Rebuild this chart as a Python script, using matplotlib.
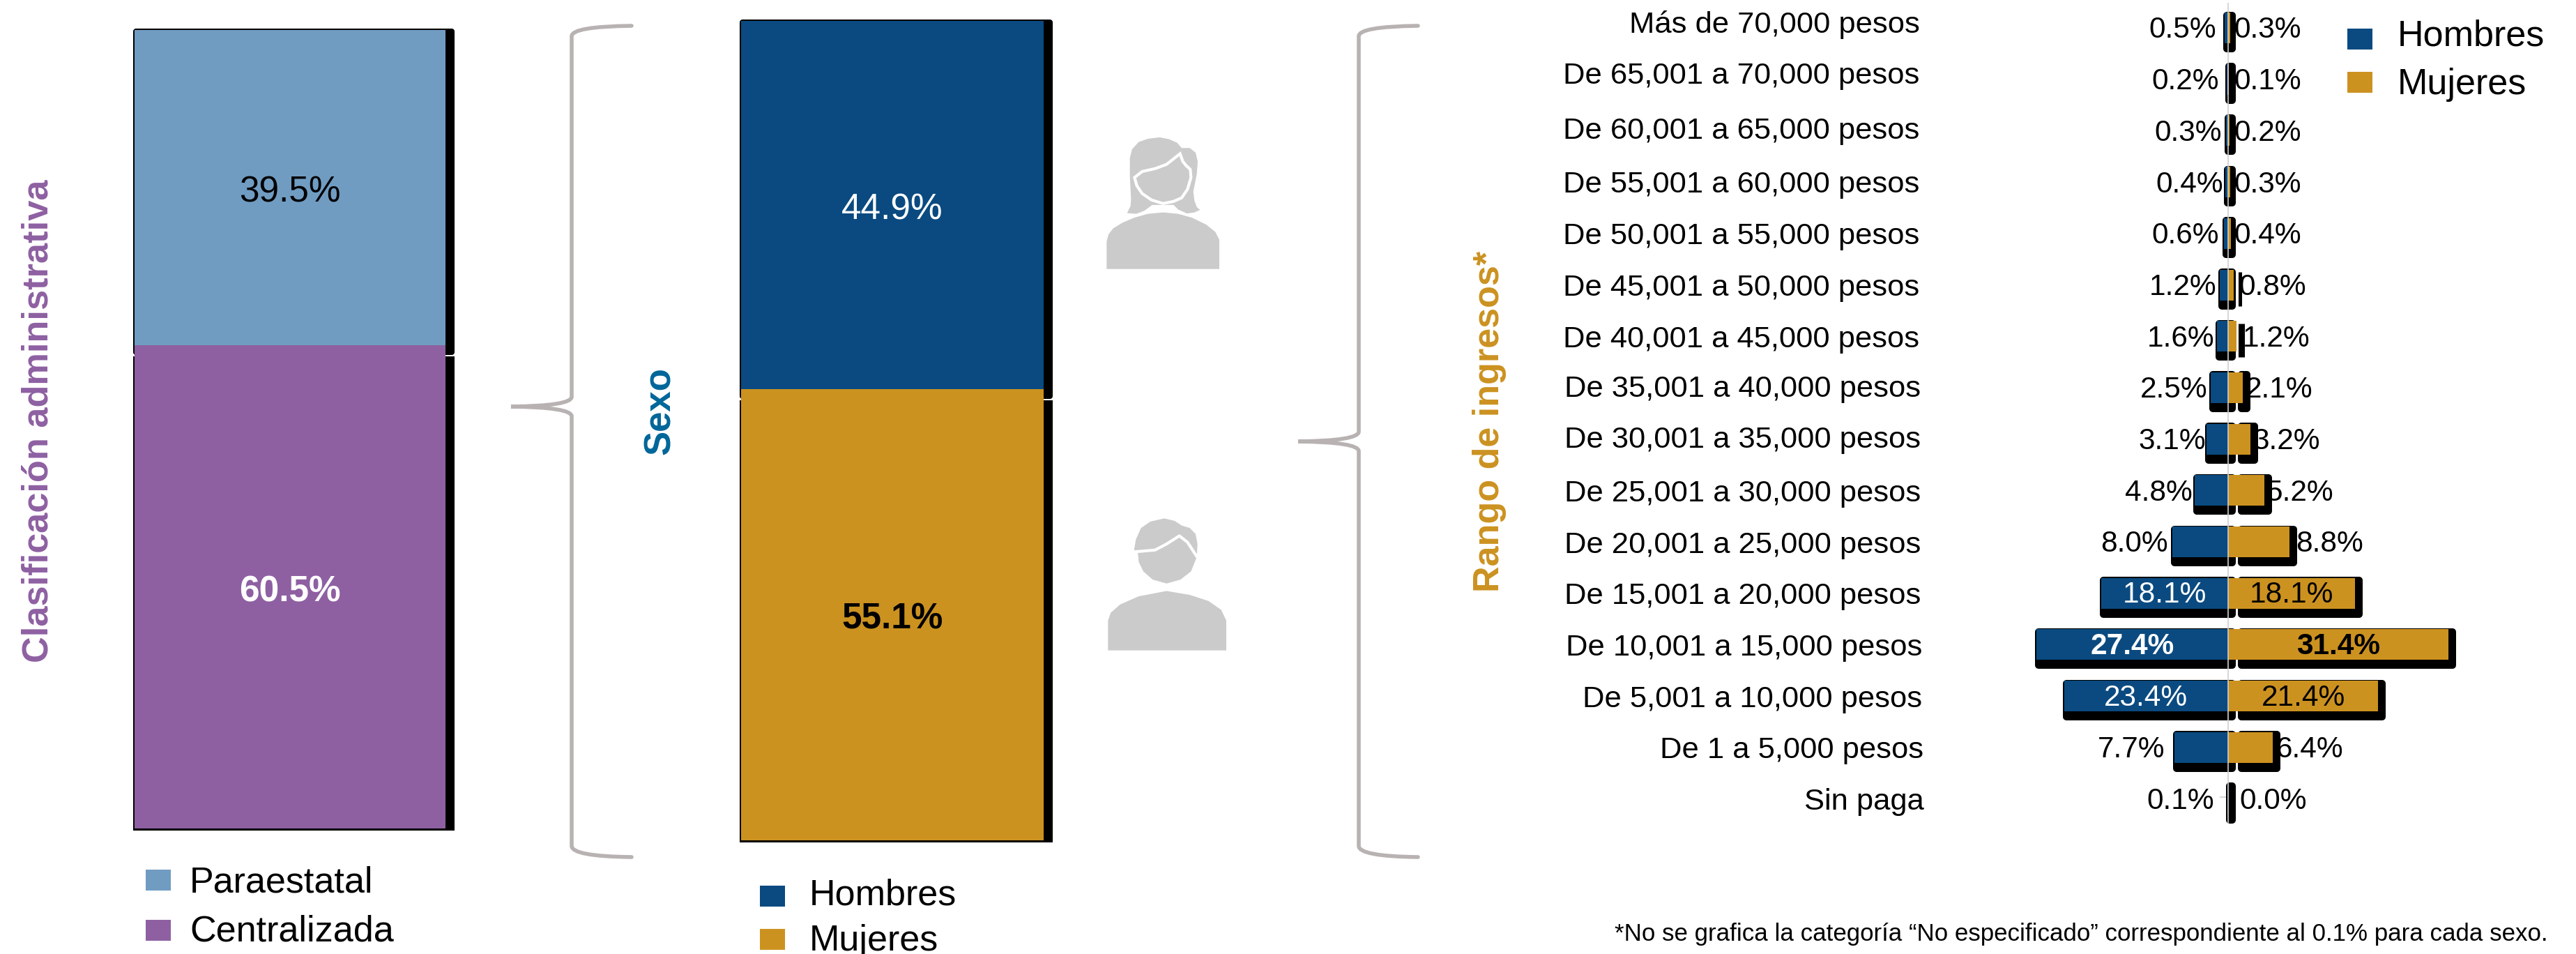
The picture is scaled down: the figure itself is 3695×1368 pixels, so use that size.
import matplotlib
matplotlib.use('Agg')
import matplotlib.pyplot as plt
from matplotlib.path import Path
from matplotlib.patches import PathPatch, Polygon, Rectangle
from matplotlib.transforms import ScaledTranslation

plt.rcParams['font.family'] = ['Liberation Sans', 'DejaVu Sans']

W, H = 3695, 1368

# data
admin_labels = ['Centralizada', 'Paraestatal']
admin_values = [60.5, 39.5]
sexo_labels = ['Mujeres', 'Hombres']
sexo_values = [55.1, 44.9]
rangos = ['Más de 70,000 pesos', 'De 65,001 a 70,000 pesos', 'De 60,001 a 65,000 pesos',
          'De 55,001 a 60,000 pesos', 'De 50,001 a 55,000 pesos', 'De 45,001 a 50,000 pesos',
          'De 40,001 a 45,000 pesos', 'De 35,001 a 40,000 pesos', 'De 30,001 a 35,000 pesos',
          'De 25,001 a 30,000 pesos', 'De 20,001 a 25,000 pesos', 'De 15,001 a 20,000 pesos',
          'De 10,001 a 15,000 pesos', 'De 5,001 a 10,000 pesos', 'De 1 a 5,000 pesos', 'Sin paga']
hombres = [0.5, 0.2, 0.3, 0.4, 0.6, 1.2, 1.6, 2.5, 3.1, 4.8, 8.0, 18.1, 27.4, 23.4, 7.7, 0.1]
mujeres = [0.3, 0.1, 0.2, 0.3, 0.4, 0.8, 1.2, 2.1, 3.2, 5.2, 8.8, 18.1, 31.4, 21.4, 6.4, 0.0]

# colors
AZUL_CLARO = '#709CC2'
MORADO = '#8E60A2'
AZUL = '#0A4A80'
ORO = '#CC9220'
GRIS = '#B8B2B2'
ICONO = '#CBCBCB'

# gap in px between bar end and outside label, hand tuned per row
gap_h = [12, 11, 6, 3, 7, 5, 4, 4, 1, 3, 6, 0, 0, 0, 13, 19]
gap_m = [5, 7, 6, 5, 4, 7, 9, 4, 3, 2, 9, 0, 0, 0, 5, 16]
# the row labels are not quite aligned in the source either (px)
label_dx = [-4, -4, -4, -4, -4, -4, -4, -2, -2, -2, -2, -2, 0, 0, 2, 2]
label_dy = [-9, -9, -4, -1, 0, 0, 0, -2, -3, 0, 0, 0, 0, 0, 0, 0]


def box(x0, y0, x1, y1):
    # pixel box (y from the top) to figure fractions
    return [x0 / W, 1 - y1 / H, (x1 - x0) / W, (y1 - y0) / H]


fig = plt.figure(figsize=(W / 100, H / 100), dpi=100, facecolor='white')

# overlay for braces, icons, legends and titles, in pixels
ov = fig.add_axes([0, 0, 1, 1], zorder=5)
ov.set_xlim(0, W)
ov.set_ylim(H, 0)
ov.axis('off')
ov.patch.set_alpha(0)


def stacked(x0, y0, x1, y1, values, colors, txt_colors, weights):
    ax = fig.add_axes(box(x0, y0, x1, y1))
    ax.set_xlim(-0.5, 0.5)
    ax.set_ylim(0, 100)
    ax.axis('off')
    px_x = x1 - x0
    px_y = (y1 - y0) / 100
    low, up = values
    # black shadows, lower one first
    ax.bar(5.5 / px_x, low - 13 / px_y, bottom=-3 / px_y, width=1 + 15 / px_x,
           color='k', clip_on=False, zorder=1)
    ax.bar(5.5 / px_x, up + 8 / px_y, bottom=low - 10 / px_y, width=1 + 7 / px_x,
           color='k', edgecolor='k', linewidth=5.8, joinstyle='round', clip_on=False, zorder=1)
    ax.bar(0, low, width=1, color=colors[0], zorder=2)
    ax.bar(0, up, bottom=low, width=1, color=colors[1], zorder=2)
    ax.annotate(f'{low:.1f}%', (0, low / 2), xytext=(0, -5), textcoords='offset points', ha='center',
                va='center', fontsize=37, color=txt_colors[0], fontweight=weights[0], zorder=3)
    ax.annotate(f'{up:.1f}%', (0, low + up / 2), xytext=(0, -5), textcoords='offset points', ha='center',
                va='center', fontsize=37, color=txt_colors[1], fontweight=weights[1], zorder=3)
    return ax


stacked(193, 43, 639, 1188, admin_values, [MORADO, AZUL_CLARO], ['white', 'black'], ['bold', 'normal'])
stacked(1063, 30, 1497, 1205, sexo_values, [ORO, AZUL], ['black', 'white'], ['bold', 'normal'])

# pyramid
PX_X = 10.05
PX_Y = 73.7
CX = 3196
Y0 = 40
ax = fig.add_axes(box(2770, 0, 3600, 1200))
ax.set_xlim((2770 - CX) / PX_X, (3600 - CX) / PX_X)
ax.set_ylim((1200 - Y0) / PX_Y, (0 - Y0) / PX_Y)
for s in ax.spines.values():
    s.set_visible(False)
ax.patch.set_alpha(0)
ax.set_xticks([])
rows = list(range(len(rangos)))
ax.set_yticks(rows)
ax.set_yticklabels(rangos, fontsize=31.3)
ax.tick_params(axis='y', length=0, pad=9)
for lbl, dx, dy in zip(ax.get_yticklabels(), label_dx, label_dy):
    lbl.set_transform(lbl.get_transform() + ScaledTranslation(dx / 100, -dy / 100, fig.dpi_scale_trans))

# labels that sit outside the bars go below the shadows
for i in rows:
    h, m = hombres[i], mujeres[i]
    if h < 10:
        ax.annotate(f'{h:.1f}%', (-h, i), xytext=(-gap_h[i] * 0.72, -2.5), textcoords='offset points',
                    ha='right', va='center', fontsize=30.5, zorder=1)
    if m < 10:
        ax.annotate(f'{m:.1f}%', (m, i), xytext=(gap_m[i] * 0.72, -2.5), textcoords='offset points',
                    ha='left', va='center', fontsize=30.5, zorder=1)

sh_y = 5.75 / PX_Y
sh_h = (44 + 14.5 - 10) / PX_Y
for i in rows:
    h, m = hombres[i], mujeres[i]
    # man shadow runs from the bar end past the center line
    ax.barh(i + sh_y, (h * PX_X + 2 + 11 - 10) / PX_X, left=-h - (2 - 5) / PX_X, height=sh_h,
            color='k', edgecolor='k', linewidth=7.2, joinstyle='round', zorder=2)
    r = m * PX_X + 11
    if r - 14 > 4:
        inset = min(5, (r - 14) / 2)
        ax.barh(i + sh_y, (r - 14 - 2 * inset) / PX_X, left=(14 + inset) / PX_X, height=sh_h,
                color='k', edgecolor='k', linewidth=inset * 1.44, joinstyle='round', zorder=2)

ax.barh(rows, [-v for v in hombres], height=44 / PX_Y, color=AZUL, zorder=3)
ax.barh(rows, mujeres, height=44 / PX_Y, color=ORO, zorder=3)
ax.vlines(0, -36 / PX_Y, (1181 - Y0) / PX_Y, color='#CFCFCF', linewidth=1.2, zorder=4)
# small leader on the last row
ax.hlines(15 - 0.04, -1.2, 0, color='#CFCFCF', linewidth=1.2, zorder=1)

for i in rows:
    h, m = hombres[i], mujeres[i]
    w = 'bold' if i == 12 else 'normal'
    if h >= 10:
        ax.annotate(f'{h:.1f}%', (-h / 2, i), xytext=(0, -2), textcoords='offset points', ha='center',
                    va='center', fontsize=30.5, color='white', fontweight=w, zorder=5)
    if m >= 10:
        ax.annotate(f'{m:.1f}%', (m / 2, i), xytext=(0, -2), textcoords='offset points', ha='center',
                    va='center', fontsize=30.5, color='black', fontweight=w, zorder=5)


def brace(sx, top, mid, bot, end_x, tip_x):
    c3 = Path.CURVE3
    verts = [(end_x, top), (sx, top + 1), (sx, top + 15), (sx, mid - 14),
             (sx, mid - 1), (tip_x, mid), (sx, mid + 1), (sx, mid + 14),
             (sx, bot - 16), (sx, bot - 1), (end_x, bot)]
    codes = [Path.MOVETO, c3, c3, Path.LINETO, c3, c3, c3, c3, Path.LINETO, c3, c3]
    ov.add_patch(PathPatch(Path(verts, codes), fill=False, edgecolor=GRIS, linewidth=4, capstyle='round'))


brace(820, 37, 583, 1229, 906, 733)
brace(1949, 37, 633, 1229, 2034, 1862)


def zz(pts):
    return [(1500 + a / 3, 150 + b / 1.96) for a, b in pts]


def shape(pts, **kw):
    ov.add_patch(Polygon(zz(pts), closed=True, facecolor=ICONO, edgecolor='none', **kw))


# woman icon
shape([(262, 462), (262, 385), (270, 365), (290, 348), (330, 332), (380, 318), (440, 307), (505, 303),
       (570, 307), (630, 318), (690, 337), (730, 358), (747, 380), (747, 462)])
shape([(350, 305), (365, 285), (367, 265), (362, 200), (362, 150), (372, 125), (400, 105), (440, 96),
       (490, 92), (530, 97), (565, 107), (585, 122), (620, 122), (645, 135), (654, 160), (650, 195),
       (635, 245), (640, 270), (650, 288), (664, 296), (640, 303), (608, 306), (570, 295), (550, 282),
       (458, 282), (425, 298), (390, 307)])
ov.add_patch(Polygon(zz([(382, 205), (415, 188), (470, 180), (520, 168), (578, 138), (590, 160), (605, 172),
                         (622, 182), (625, 205), (610, 238), (585, 262), (550, 272), (505, 278), (455, 268),
                         (415, 250), (392, 228)]), closed=True, facecolor=ICONO, edgecolor='white', linewidth=3))
# man icon
shape([(268, 1534), (268, 1450), (280, 1428), (320, 1405), (400, 1382), (520, 1367), (620, 1378),
       (700, 1395), (755, 1420), (777, 1450), (777, 1534)])
shape([(380, 1252), (388, 1222), (410, 1190), (450, 1172), (510, 1163), (555, 1170), (585, 1183), (620, 1190),
       (645, 1207), (653, 1235), (650, 1272), (625, 1312), (580, 1335), (520, 1346), (460, 1335), (420, 1312),
       (400, 1285), (397, 1262)])
wl = zz([(380, 1257), (470, 1252), (520, 1235), (575, 1212), (610, 1230), (652, 1272)])
ov.plot([p[0] for p in wl], [p[1] for p in wl], color='white', linewidth=3)


def legend_item(px, py, tx, ty, color, label):
    ov.add_patch(Rectangle((px, py), 36, 30, facecolor=color, edgecolor='none'))
    ov.text(tx, ty, label, fontsize=37.5, ha='left', va='center')


legend_item(209, 1247, 272, 1266, AZUL_CLARO, admin_labels[1])
legend_item(209, 1319, 272, 1336, MORADO, admin_labels[0])
legend_item(1090, 1270, 1161, 1284, AZUL, sexo_labels[1])
legend_item(1090, 1332, 1161, 1350, ORO, sexo_labels[0])
legend_item(3367, 41, 3439, 52, AZUL, 'Hombres')
legend_item(3367, 103, 3439, 121, ORO, 'Mujeres')

ov.text(55, 604, 'Clasificación administrativa', rotation=90, fontsize=37.7, fontweight='bold',
        color=MORADO, ha='center', va='center')
ov.text(947, 589, 'Sexo', rotation=90, fontsize=38, fontweight='bold', color='#006699', ha='center', va='center')
ov.text(2136, 604, 'Rango de ingresos*', rotation=90, fontsize=37.5, fontweight='bold', color=ORO,
        ha='center', va='center')
ov.text(3654, 1339, '*No se grafica la categoría “No especificado” correspondiente al 0.1% para cada sexo.',
        fontsize=25.1, ha='right', va='center')

fig.savefig('out.png', dpi=100)
